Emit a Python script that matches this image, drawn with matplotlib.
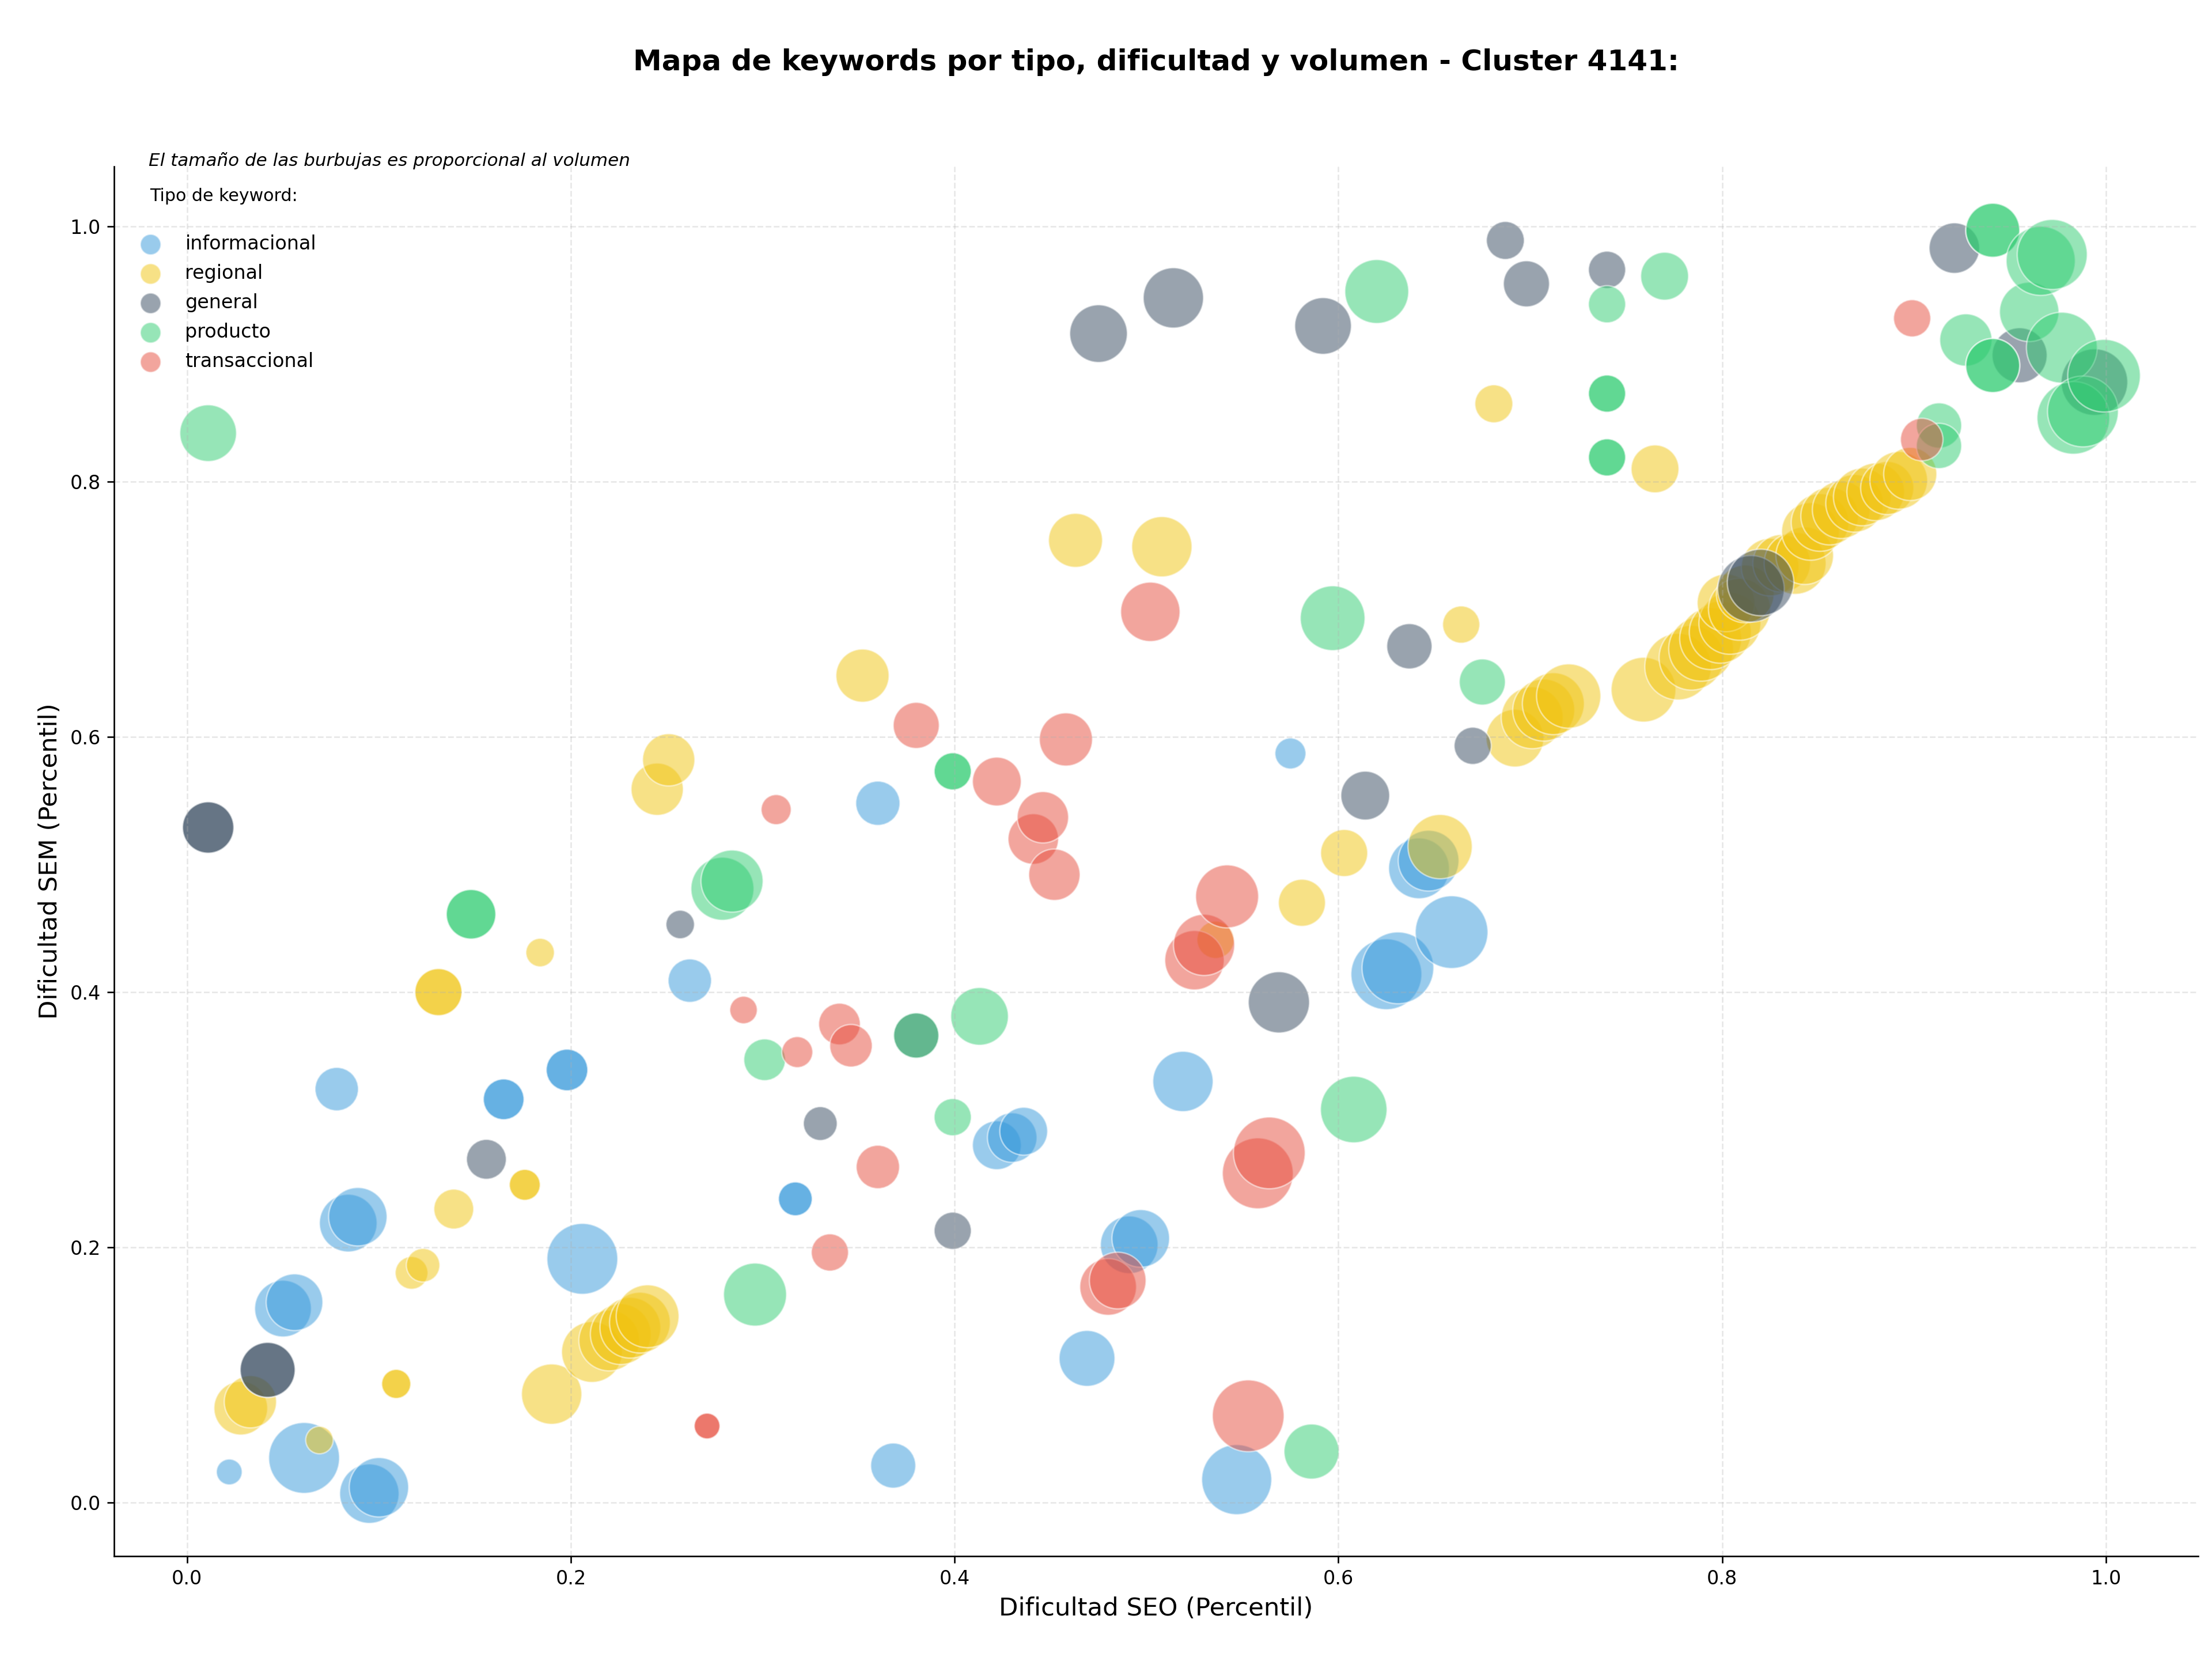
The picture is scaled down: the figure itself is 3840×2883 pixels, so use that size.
import matplotlib
matplotlib.use("Agg")
import matplotlib.pyplot as plt
import numpy as np

# ---------------------
# DATOS
# ---------------------
TITULO = "Mapa de keywords por tipo, dificultad y volumen - Cluster 4141:"
NOTA = "El tamaño de las burbujas es proporcional al volumen"

tipos = ["informacional", "regional", "general", "producto", "transaccional"]
colores = ["#3498db", "#f1c40f", "#34495e", "#2ecc71", "#e74c3c"]

# informacional
seo_info = [0.022, 0.061, 0.095, 0.100, 0.050, 0.056, 0.084, 0.089, 0.078, 0.165, 0.165,
            0.198, 0.198, 0.206, 0.262, 0.317, 0.317, 0.360, 0.368, 0.422, 0.430, 0.436,
            0.469, 0.491, 0.497, 0.519, 0.547, 0.575, 0.625, 0.631, 0.659, 0.642, 0.647]
sem_info = [0.024, 0.035, 0.007, 0.012, 0.152, 0.157, 0.219, 0.224, 0.324, 0.316, 0.316,
            0.339, 0.339, 0.191, 0.409, 0.238, 0.238, 0.548, 0.029, 0.280, 0.286, 0.291,
            0.113, 0.202, 0.207, 0.330, 0.018, 0.587, 0.414, 0.419, 0.447, 0.497, 0.503]
vol_info = [180, 1360, 955, 955, 870, 870, 900, 925, 510, 450, 450,
            470, 470, 1360, 510, 310, 310, 530, 550, 645, 665, 620,
            845, 900, 900, 985, 1330, 260, 1360, 1395, 1430, 1000, 1000]

# regional
seo_reg = [0.028, 0.033, 0.069, 0.109, 0.109, 0.117, 0.123, 0.139, 0.176, 0.176,
           0.131, 0.131, 0.184, 0.190, 0.211, 0.220, 0.226, 0.231, 0.236, 0.240,
           0.245, 0.251, 0.352, 0.463, 0.508, 0.536, 0.581, 0.603, 0.653, 0.664,
           0.681, 0.765,
           0.692, 0.701, 0.707, 0.712, 0.720, 0.759, 0.777, 0.784, 0.789, 0.794,
           0.799, 0.804, 0.802, 0.809, 0.812, 0.825, 0.831, 0.838, 0.843, 0.846,
           0.851, 0.856, 0.862, 0.869, 0.873, 0.880, 0.886, 0.892, 0.898]
sem_reg = [0.074, 0.079, 0.049, 0.093, 0.093, 0.180, 0.186, 0.230, 0.249, 0.249,
           0.400, 0.400, 0.431, 0.085, 0.118, 0.127, 0.132, 0.137, 0.141, 0.146,
           0.559, 0.582, 0.648, 0.754, 0.749, 0.441, 0.470, 0.509, 0.514, 0.688,
           0.861, 0.810,
           0.599, 0.615, 0.621, 0.626, 0.632, 0.637, 0.655, 0.662, 0.669, 0.677,
           0.682, 0.689, 0.705, 0.700, 0.712, 0.733, 0.736, 0.736, 0.742, 0.761,
           0.768, 0.773, 0.778, 0.783, 0.788, 0.792, 0.795, 0.801, 0.806]
vol_reg = [780, 740, 205, 230, 230, 290, 305, 430, 260, 260,
           600, 600, 220, 985, 1000, 1000, 1000, 1000, 1000, 1070,
           740, 740, 765, 790, 985, 375, 600, 600, 1120, 375,
           390, 620,
           900, 1040, 1040, 1040, 1120, 1135, 1200, 1135, 1135, 1040,
           1040, 1040, 900, 1040, 900, 900, 900, 1040, 900, 900,
           900, 900, 900, 900, 900, 900, 765, 900, 765]

# general
seo_gen = [0.011, 0.011, 0.042, 0.042, 0.156, 0.257, 0.330, 0.380, 0.399, 0.475,
           0.514, 0.569, 0.592, 0.614, 0.637, 0.670, 0.687, 0.698, 0.740, 0.815,
           0.820, 0.921, 0.955, 0.994]
sem_gen = [0.529, 0.529, 0.104, 0.104, 0.269, 0.453, 0.297, 0.366, 0.213, 0.916,
           0.944, 0.392, 0.922, 0.554, 0.671, 0.593, 0.989, 0.955, 0.966, 0.716,
           0.721, 0.983, 0.899, 0.878]
vol_gen = [715, 715, 820, 820, 430, 220, 310, 555, 375, 900,
           985, 1015, 870, 645, 555, 375, 390, 575, 375, 1200,
           1200, 690, 820, 1200]

# producto
seo_prod = [0.011, 0.148, 0.148, 0.279, 0.284, 0.296, 0.301, 0.380, 0.399, 0.399,
            0.399, 0.413, 0.586, 0.597, 0.608, 0.620, 0.675, 0.740, 0.740, 0.740,
            0.740, 0.740, 0.770, 0.913, 0.913, 0.927, 0.941, 0.941, 0.941, 0.941,
            0.960, 0.966, 0.972, 0.977, 0.983, 0.988, 0.999]
sem_prod = [0.838, 0.461, 0.461, 0.481, 0.487, 0.163, 0.347, 0.366, 0.573, 0.573,
            0.302, 0.381, 0.040, 0.693, 0.308, 0.949, 0.643, 0.939, 0.869, 0.869,
            0.819, 0.819, 0.961, 0.844, 0.828, 0.911, 0.997, 0.997, 0.891, 0.891,
            0.933, 0.973, 0.978, 0.905, 0.850, 0.855, 0.883]
vol_prod = [870, 665, 665, 1075, 1045, 1075, 470, 555, 375, 375,
            375, 900, 820, 1135, 1200, 1105, 575, 375, 375, 375,
            375, 375, 620, 555, 555, 740, 790, 790, 790, 790,
            955, 1295, 1330, 1360, 1430, 1360, 1430]

# transaccional
seo_trans = [0.271, 0.271, 0.290, 0.307, 0.318, 0.335, 0.340, 0.346, 0.360, 0.380,
             0.422, 0.441, 0.446, 0.452, 0.458, 0.480, 0.485, 0.502, 0.525, 0.530,
             0.542, 0.553, 0.558, 0.564, 0.899, 0.904]
sem_trans = [0.060, 0.060, 0.386, 0.543, 0.353, 0.196, 0.375, 0.358, 0.263, 0.609,
             0.565, 0.520, 0.537, 0.492, 0.598, 0.169, 0.174, 0.698, 0.425, 0.437,
             0.475, 0.068, 0.258, 0.274, 0.928, 0.833]
vol_trans = [180, 180, 205, 245, 260, 375, 470, 490, 510, 575,
             645, 690, 715, 715, 765, 870, 870, 955, 955, 1015,
             1075, 1395, 1360, 1395, 375, 490]

series = [
    (seo_info, sem_info, vol_info),
    (seo_reg, sem_reg, vol_reg),
    (seo_gen, sem_gen, vol_gen),
    (seo_prod, sem_prod, vol_prod),
    (seo_trans, sem_trans, vol_trans),
]

ESCALA = 1.0  # tamano de burbuja = volumen * ESCALA

# ---------------------
# FIGURA
# ---------------------
fig, ax = plt.subplots(figsize=(16, 12.0125), dpi=240)
fig.subplots_adjust(left=0.0516, right=0.9937, top=0.8998, bottom=0.0631)

for (x, y, v), tipo, color in zip(series, tipos, colores):
    ax.scatter(x, y, s=np.array(v) * ESCALA, c=color, alpha=0.5,
               edgecolors="white", linewidths=0.8)

# proxies para la leyenda (mismo tamano para todos)
handles = [ax.scatter([], [], s=115, c=c, alpha=0.5, edgecolors="white",
                      linewidths=0.8, label=t) for t, c in zip(tipos, colores)]

ax.set_xlim(-0.038, 1.048)
ax.set_ylim(-0.042, 1.047)

ax.set_xlabel("Dificultad SEO (Percentil)", fontsize=13)
ax.set_ylabel("Dificultad SEM (Percentil)", fontsize=13)
ax.set_title(TITULO, fontsize=15, fontweight="bold", pad=50)

ax.grid(True, linestyle="--", alpha=0.3)
ax.spines["top"].set_visible(False)
ax.spines["right"].set_visible(False)

ax.text(0.0165, 1.004, NOTA, transform=ax.transAxes, fontsize=9.3,
        style="italic", va="center", ha="left")

ax.legend(handles=handles, loc="upper left", bbox_to_anchor=(0, 0.997),
          frameon=False, fontsize=10, labelspacing=0.54,
          title="Tipo de keyword:\n", title_fontsize=9)

fig.savefig("out.png", dpi=240)
